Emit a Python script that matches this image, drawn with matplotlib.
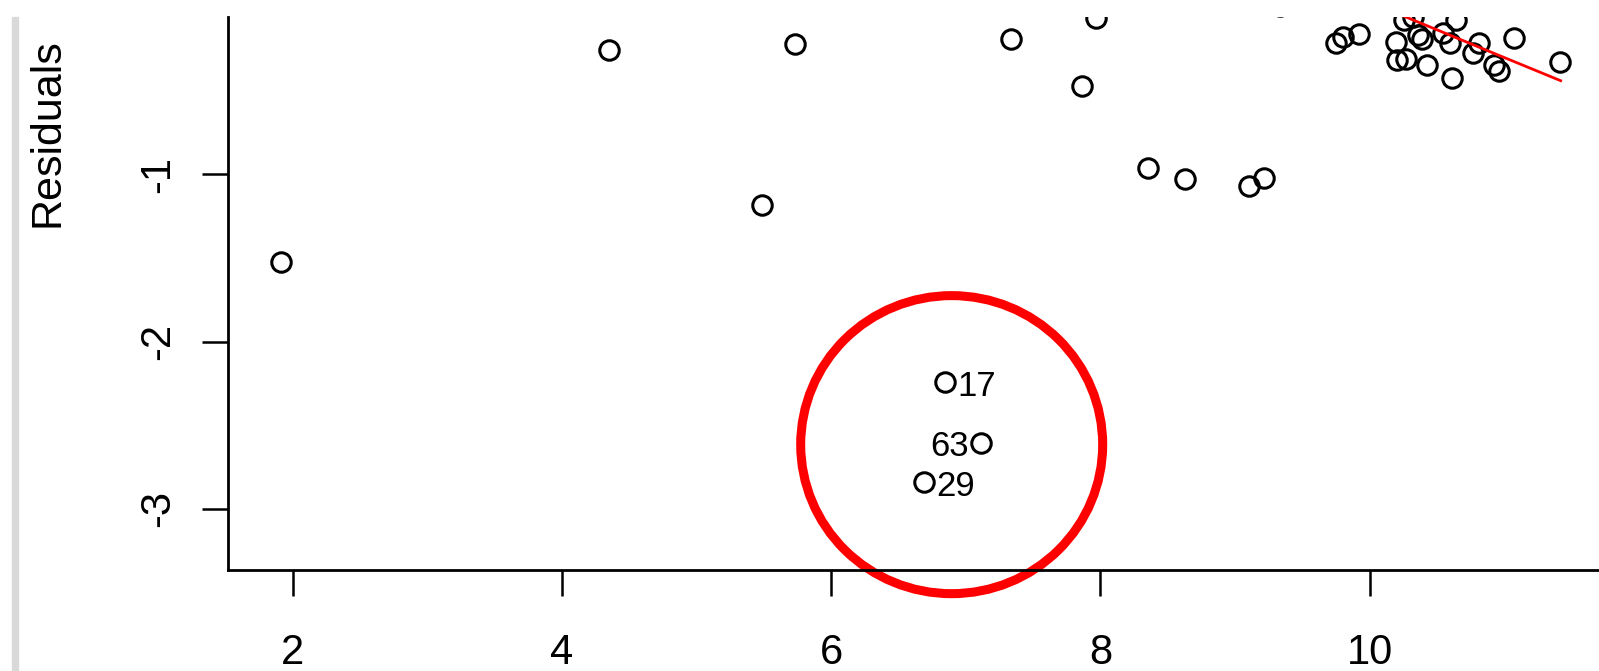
import numpy as np
import matplotlib.pyplot as plt
from matplotlib.patches import Ellipse, Rectangle

plt.rcParams['font.family'] = ['Liberation Sans', 'DejaVu Sans']
plt.rcParams['axes.unicode_minus'] = False

# fitted values and residuals
fitted = [1.909, 4.348, 5.485, 5.727, 7.333, 7.970, 7.864, 8.356, 8.629, 9.106,
          9.212, 9.333, 9.751, 9.805, 9.922, 10.197, 10.207, 10.271, 10.256, 10.323,
          10.363, 10.388, 10.425, 10.548, 10.598, 10.610, 10.643, 10.767, 10.814,
          10.925, 10.962, 11.074, 11.415]
resid = [-1.524, -0.256, -1.183, -0.220, -0.189, -0.067, -0.470, -0.963, -1.030, -1.067,
         -1.024, 0.006, -0.216, -0.180, -0.161, -0.207, -0.316, -0.312, -0.077, -0.057,
         -0.167, -0.192, -0.346, -0.153, -0.213, -0.425, -0.077, -0.276, -0.216,
         -0.346, -0.380, -0.186, -0.326]

# outliers with their labels
out_x = [6.848, 7.114, 6.689]
out_y = [-2.244, -2.604, -2.841]
out_lab = ['17', '63', '29']
out_side = ['right', 'left', 'right']

# smoother
smooth_x = [10.0, 10.276, 10.8, 11.42]
smooth_y = [0.030, -0.061, -0.235, -0.440]

fig = plt.figure(figsize=(15.99, 6.71), dpi=100)
ax = fig.add_axes([0.1428, 0.1504, 0.8572, 0.8243])

ax.plot(fitted + out_x, resid + out_y, 'o', ms=14, mfc='none', mec='black', mew=2.2)
ax.plot(smooth_x, smooth_y, color='red', lw=2)

for x, y, lab, side in zip(out_x, out_y, out_lab, out_side):
    dx = 9 if side == 'right' else -9
    ax.annotate(lab, (x, y), xytext=(dx, -3), textcoords='offset points',
                ha='left' if side == 'right' else 'right', va='center', fontsize=25)

# highlight ring around the outliers
ax.add_patch(Ellipse((6.895, -2.616), 2.244, 1.782, fill=False, ec='red', lw=6.5,
                     clip_on=False))

ax.set_xlim(1.52, 11.705)
ax.set_ylim(-3.366, -0.059)
ax.set_xticks([2, 4, 6, 8, 10])
ax.set_yticks([-3, -2, -1])
ax.tick_params(labelsize=30, length=19, width=1.8)
ax.tick_params(axis='x', pad=26)
ax.tick_params(axis='y', pad=17)
for lab in ax.get_yticklabels():
    lab.set_rotation(90)
    lab.set_va('center')
ax.spines['top'].set_visible(False)
ax.spines['right'].set_visible(False)
ax.spines['left'].set_linewidth(2)
ax.spines['bottom'].set_linewidth(2)
ax.set_ylabel('Residuals', fontsize=31)
ax.yaxis.set_label_coords(-0.117, 1.0 - (133 - 17) / 553, transform=ax.transAxes)

fig.patches.append(Rectangle((12 / 1599, 0), 6 / 1599, 1 - 17 / 671, transform=fig.transFigure,
                             color='#d9d9d9', zorder=0))

fig.savefig('out.png', dpi=100)
